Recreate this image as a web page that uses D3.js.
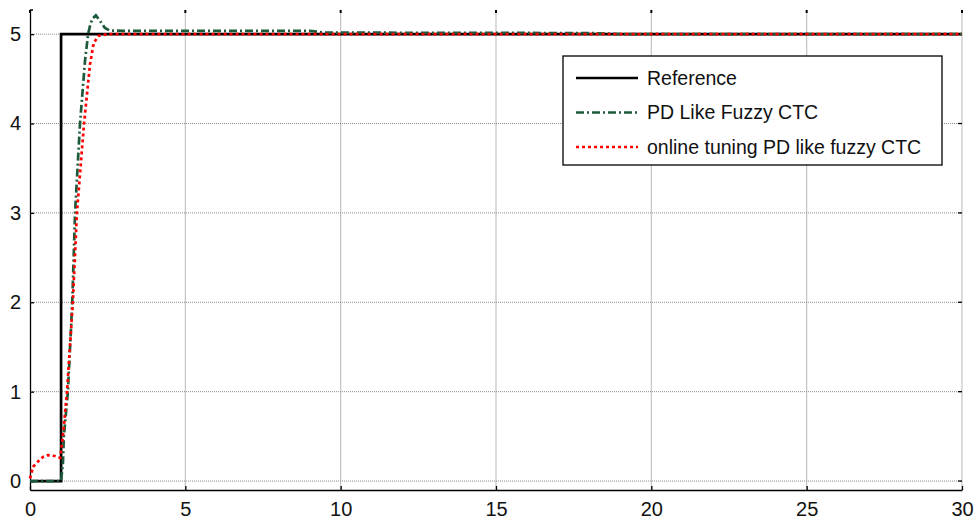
<!DOCTYPE html>
<html>
<head>
<meta charset="utf-8">
<script src="https://cdn.jsdelivr.net/npm/d3@7"></script>
<style>
  body { margin: 0; background: #fff; }
  svg { font-family: Arial, "Liberation Sans", sans-serif; }
</style>
</head>
<body>
<div id="chart"></div>
<script>
// time / value pairs
var refT = [0, 1, 1, 30]
var refV = [0, 0, 5, 5]

var pdT = [0, 1.0, 1.06, 1.09, 1.22, 1.36, 1.45, 1.61, 1.77, 1.87, 1.95, 2.03, 2.12, 2.25, 2.41, 2.57, 3.0, 9.0, 9.5, 18.0, 19.0, 30]
var pdV = [0, 0, 0.2, 0.5, 1.0, 2.0, 3.0, 4.0, 4.7, 5.0, 5.12, 5.18, 5.21, 5.15, 5.07, 5.04, 5.037, 5.037, 5.017, 5.012, 5.0, 5.0]

var onT = [0, 0.1, 0.26, 0.42, 0.58, 0.8, 0.97, 1.06, 1.19, 1.38, 1.51, 1.74, 1.93, 2.05, 2.2, 2.5, 30]
var onV = [0.03, 0.16, 0.22, 0.27, 0.29, 0.28, 0.26, 0.5, 1.0, 2.0, 3.0, 4.0, 4.66, 4.9, 4.98, 5.0, 5.0]

var xTicks = [0, 5, 10, 15, 20, 25, 30]
var yTicks = [0, 1, 2, 3, 4, 5]
var legendNames = ["Reference", "PD Like Fuzzy CTC", "online tuning PD like fuzzy CTC"]

var W = 976, H = 525
var m = {left: 30, right: 962, top: 10, bottom: 490}

var x = d3.scaleLinear().domain([0, 30]).range([m.left, m.right])
var y = d3.scaleLinear().domain([-0.1, 5.27]).range([m.bottom, m.top])

var svg = d3.select("#chart").append("svg")
    .attr("width", W)
    .attr("height", H)

// grid
svg.selectAll(".vgrid")
    .data(xTicks.slice(1))
  .enter().append("line")
    .attr("x1", function(d) { return x(d) })
    .attr("x2", function(d) { return x(d) })
    .attr("y1", m.top)
    .attr("y2", m.bottom)
    .attr("stroke", "#c4c4c4")
    .attr("stroke-width", 1.2)

svg.selectAll(".hgrid")
    .data(yTicks)
  .enter().append("line")
    .attr("x1", m.left)
    .attr("x2", m.right)
    .attr("y1", function(d) { return y(d) })
    .attr("y2", function(d) { return y(d) })
    .attr("stroke", "#8a8a8a")
    .attr("stroke-width", 1)
    .attr("stroke-dasharray", "1,1")

// axes
var xAxis = d3.axisBottom(x).tickValues(xTicks).tickFormat(d3.format("d"))
    .tickSizeInner(-4).tickSizeOuter(0).tickPadding(12)
var yAxis = d3.axisLeft(y).tickValues(yTicks).tickFormat(d3.format("d"))
    .tickSizeInner(-4).tickSizeOuter(0).tickPadding(9)

var gx = svg.append("g")
    .attr("transform", "translate(0," + m.bottom + ")")
    .call(xAxis)
var gy = svg.append("g")
    .attr("transform", "translate(" + m.left + ",0)")
    .call(yAxis)

;[gx, gy].forEach(function(g) {
  g.select(".domain").attr("stroke", "#000").attr("stroke-width", 1.3)
  g.selectAll(".tick line").attr("stroke", "#000").attr("stroke-width", 1.3)
  g.selectAll(".tick text").attr("fill", "#111").style("font-size", "20px")
})

// ticks on top and right edges
svg.selectAll(".ttick")
    .data(xTicks)
  .enter().append("line")
    .attr("x1", function(d) { return x(d) })
    .attr("x2", function(d) { return x(d) })
    .attr("y1", m.top)
    .attr("y2", m.top + 3)
    .attr("stroke", "#000")
    .attr("stroke-width", 2)
svg.append("line")
    .attr("x1", m.left).attr("x2", m.left + 3).attr("y1", m.top).attr("y2", m.top)
    .attr("stroke", "#000").attr("stroke-width", 1.5)
svg.selectAll(".rtick")
    .data(yTicks)
  .enter().append("line")
    .attr("x1", m.right - 4)
    .attr("x2", m.right)
    .attr("y1", function(d) { return y(d) })
    .attr("y2", function(d) { return y(d) })
    .attr("stroke", "#000")
    .attr("stroke-width", 1.3)

// series
var line = d3.line()
    .x(function(d) { return x(d[0]) })
    .y(function(d) { return y(d[1]) })

var zip = function(a, b) { return a.map(function(v, i) { return [v, b[i]] }) }

var styles = [
  {color: "#000000", width: 2.7, dash: null},
  {color: "#1d5a3a", width: 2.7, dash: "8,3,2,3"},
  {color: "#ff0000", width: 2.7, dash: "3,3"}
]
var series = [zip(refT, refV), zip(pdT, pdV), zip(onT, onV)]

series.forEach(function(s, i) {
  svg.append("path")
      .datum(s)
      .attr("fill", "none")
      .attr("stroke", styles[i].color)
      .attr("stroke-width", styles[i].width)
      .attr("stroke-dasharray", styles[i].dash)
      .attr("d", line)
})

// legend
var lg = svg.append("g").attr("transform", "translate(563,56)")
lg.append("rect")
    .attr("width", 379)
    .attr("height", 109)
    .attr("fill", "#fff")
    .attr("stroke", "#000")
    .attr("stroke-width", 1.3)

legendNames.forEach(function(name, i) {
  var ly = 22 + i * 34.5
  lg.append("line")
      .attr("x1", 13).attr("x2", 75)
      .attr("y1", ly).attr("y2", ly)
      .attr("stroke", styles[i].color)
      .attr("stroke-width", styles[i].width)
      .attr("stroke-dasharray", styles[i].dash)
  lg.append("text")
      .attr("x", 84)
      .attr("y", ly)
      .attr("dy", "0.35em")
      .style("font-size", "19.5px")
      .attr("fill", "#111")
      .text(name)
})
</script>
</body>
</html>
